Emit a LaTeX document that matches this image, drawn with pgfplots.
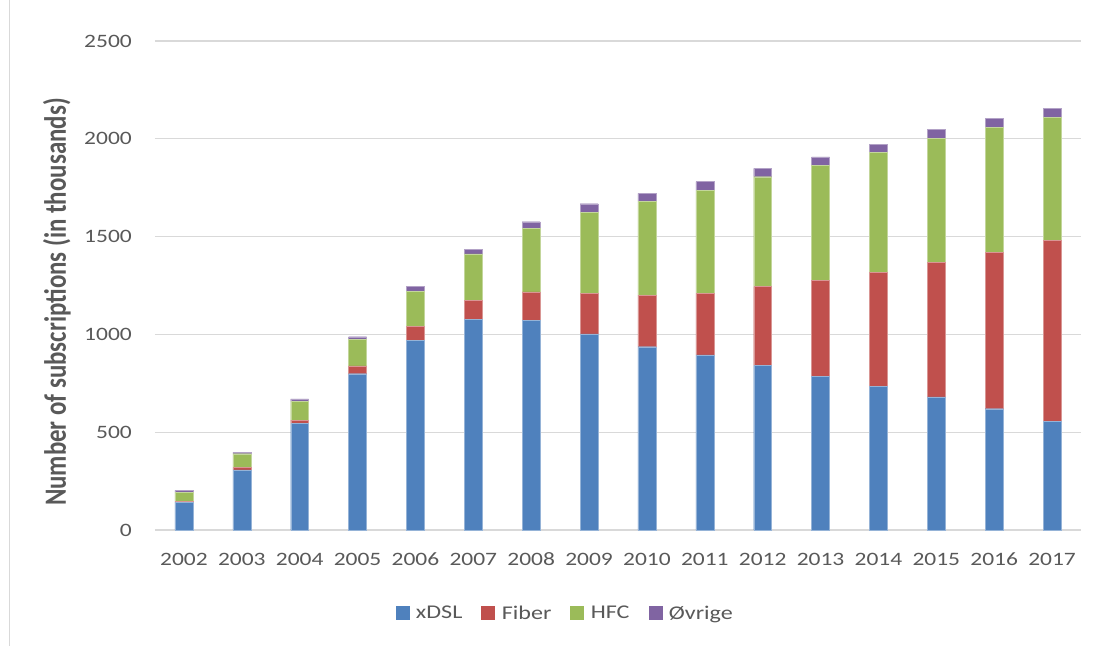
\documentclass[border=0pt]{standalone}
\usepackage{fontspec}
\setmainfont{Carlito}[FakeStretch=1.24]
\newfontfamily\labelfont{Carlito}
\usepackage{pgfplots}
\usepackage{pgfplotstable}
\pgfplotsset{compat=1.18}

\definecolor{cdsl}{HTML}{4F81BD}
\definecolor{cfib}{HTML}{C0504D}
\definecolor{chfc}{HTML}{9BBB59}
\definecolor{coth}{HTML}{8064A2}
\definecolor{txt}{HTML}{595959}
\definecolor{grd}{HTML}{D9D9D9}

% subscriptions in thousands
\pgfplotstableread{
idx year xdsl fiber hfc other
0  2002 143   2  49  9
1  2003 308  11  71  7
2  2004 544  18  94 14
3  2005 799  40 136 13
4  2006 971  70 179 27
5  2007 1078 97 237 24
6  2008 1071 147 324 34
7  2009 1003 208 414 43
8  2010 937 264 479 41
9  2011 895 315 525 46
10 2012 840 404 562 43
11 2013 787 489 590 41
12 2014 735 582 612 44
13 2015 680 688 636 43
14 2016 620 800 639 44
15 2017 555 927 626 46
}\subs

\newcommand\tickfont{\fontsize{19}{22}\selectfont}
\newcommand\legfont{\fontsize{19.5}{22}\selectfont}

\begin{document}
\begin{tikzpicture}
\path[use as bounding box] (-155bp,-116bp) rectangle (938bp,530bp);
\draw[grd, line width=1bp] (-145bp,-116bp) -- (-145bp,530bp);
\begin{axis}[
    scale only axis,
    width=926bp, height=489bp,
    ybar stacked,
    bar width=0.31,
    xmin=-0.5, xmax=15.5,
    ymin=0, ymax=2500,
    xtick={0,...,15},
    xticklabels={2002,2003,2004,2005,2006,2007,2008,2009,2010,2011,2012,2013,2014,2015,2016,2017},
    ytick={0,500,...,2500},
    /pgf/number format/assume math mode=true,
    /pgf/number format/set thousands separator={},
    major tick length=0pt,
    axis line style={draw=none},
    ymajorgrids,
    grid style={grd, line width=1.2bp},
    tick label style={font=\tickfont, text=txt, inner sep=0pt},
    xticklabel style={yshift=-23bp, text height=12bp, text depth=0pt},
    yticklabel style={xshift=-23bp},
    ylabel={\scalebox{1}[1.24]{\labelfont\fontsize{25}{28}\selectfont\bfseries Number of subscriptions (in thousands)}},
    ylabel style={at={(axis description cs:-0.106,0.466)}, anchor=center, text=txt, inner sep=0pt},
    legend columns=4,
    legend style={at={(axis description cs:0.443,-0.17)}, anchor=center, draw=none,
        font=\legfont, text=txt,
        /tikz/every odd column/.append style={column sep=5bp},
        /tikz/every even column/.append style={column sep=17bp}},
]
\addplot[fill=cdsl, draw=cdsl!60!white, line width=0.4bp,
    legend image code/.code={\fill[cdsl] (0bp,-6.5bp) rectangle (13bp,6.5bp);}]
    table[x=idx, y=xdsl] {\subs};
\addplot[fill=cfib, draw=cfib!60!white, line width=0.4bp,
    legend image code/.code={\fill[cfib] (0bp,-6.5bp) rectangle (13bp,6.5bp);}]
    table[x=idx, y=fiber] {\subs};
\addplot[fill=chfc, draw=chfc!60!white, line width=0.4bp,
    legend image code/.code={\fill[chfc] (0bp,-6.5bp) rectangle (13bp,6.5bp);}]
    table[x=idx, y=hfc] {\subs};
\addplot[fill=coth, draw=coth!60!white, line width=0.4bp,
    legend image code/.code={\fill[coth] (0bp,-6.5bp) rectangle (13bp,6.5bp);}]
    table[x=idx, y=other] {\subs};
\legend{xDSL, Fiber, HFC, Øvrige}
\end{axis}
\end{tikzpicture}
\end{document}
